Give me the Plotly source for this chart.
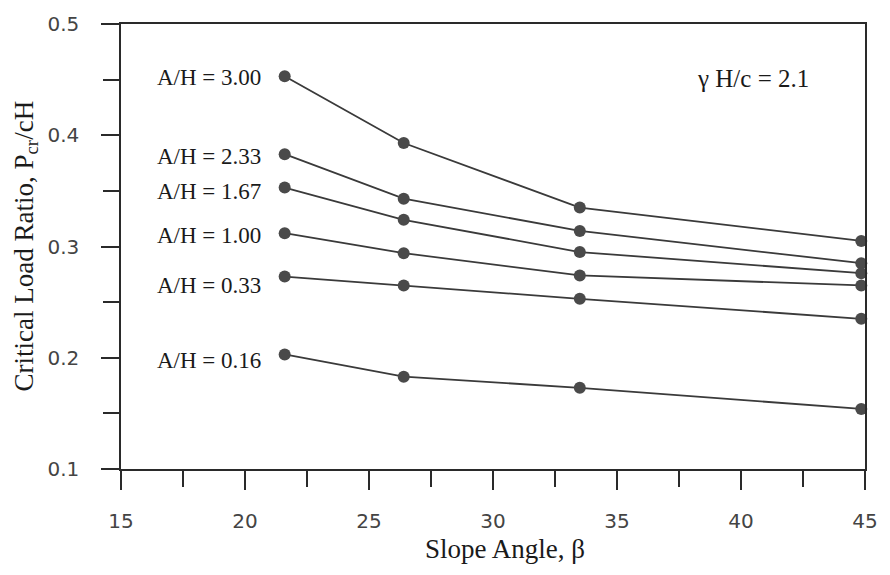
import plotly.graph_objects as go

# ---- data ----
slope_angle = [21.6, 26.4, 33.5, 44.85]
series_labels = ["A/H = 3.00", "A/H = 2.33", "A/H = 1.67", "A/H = 1.00", "A/H = 0.33", "A/H = 0.16"]
ratio_300 = [0.453, 0.393, 0.335, 0.305]
ratio_233 = [0.383, 0.343, 0.314, 0.285]
ratio_167 = [0.353, 0.324, 0.295, 0.276]
ratio_100 = [0.312, 0.294, 0.274, 0.265]
ratio_033 = [0.273, 0.265, 0.253, 0.235]
ratio_016 = [0.203, 0.183, 0.173, 0.154]
all_series = [ratio_300, ratio_233, ratio_167, ratio_100, ratio_033, ratio_016]

x_tick_vals = [15, 20, 25, 30, 35, 40, 45]
y_tick_vals = [0.1, 0.2, 0.3, 0.4, 0.5]

# ---- styling (pixel offsets for labels) ----
label_yshift = [-1, -2, -4, -2, -9, -6]

SERIF = "Liberation Serif, Times New Roman, serif"
SANS = "DejaVu Sans, sans-serif"
LINE_COL = "#3a3a3a"
MARK_COL = "#4a4a4a"
AX_COL = "#2a2a2a"

fig = go.Figure()
for name, ys in zip(series_labels, all_series):
    fig.add_trace(go.Scatter(
        x=slope_angle, y=ys, mode="lines+markers", name=name,
        line=dict(color=LINE_COL, width=1.8),
        marker=dict(color=MARK_COL, size=12),
        cliponaxis=False, showlegend=False,
    ))

annotations = []
for name, ys, ysh in zip(series_labels, all_series, label_yshift):
    annotations.append(dict(
        x=slope_angle[0], y=ys[0], xref="x", yref="y", text=name,
        showarrow=False, xanchor="right", yanchor="middle",
        xshift=-22, yshift=ysh,
        font=dict(family=SERIF, size=23, color="#1a1a1a"),
    ))

annotations.append(dict(
    x=40.5, y=0.451, xref="x", yref="y", text="γ H/c = 2.1",
    showarrow=False, xanchor="center", yanchor="middle",
    font=dict(family=SERIF, size=25, color="#1a1a1a"),
))
# axis titles
annotations.append(dict(
    x=0.5, y=-0.18, xref="paper", yref="paper", text="Slope Angle, β",
    showarrow=False, xanchor="center", yanchor="middle", xshift=12,
    font=dict(family=SERIF, size=27, color="#1a1a1a"),
))
annotations.append(dict(
    x=0, y=0.5, xref="paper", yref="paper", text="Critical Load Ratio, P<sub>cr</sub>/cH",
    showarrow=False, xanchor="center", yanchor="middle", textangle=-90,
    xshift=-96, yshift=0,
    font=dict(family=SERIF, size=27, color="#1a1a1a"),
))

fig.update_layout(
    width=890, height=575,
    margin=dict(l=121, r=19, t=17, b=106),
    paper_bgcolor="white", plot_bgcolor="white",
    annotations=annotations,
    xaxis=dict(
        range=[15, 45], tickvals=x_tick_vals, ticks="outside", ticklen=19,
        tickwidth=1.5, tickcolor=AX_COL, showline=True, linecolor=AX_COL,
        linewidth=1.5, mirror=True, showgrid=False, zeroline=False,
        tickfont=dict(family=SANS, size=20, color="#444"),
        ticklabelstandoff=14,
        minor=dict(dtick=2.5, tick0=15, ticks="outside", ticklen=16,
                   tickwidth=1.5, tickcolor=AX_COL, showgrid=False),
    ),
    yaxis=dict(
        range=[0.1, 0.5], tickvals=y_tick_vals, ticks="outside", ticklen=18,
        tickwidth=1.5, tickcolor=AX_COL, showline=True, linecolor=AX_COL,
        linewidth=1.5, mirror=True, showgrid=False, zeroline=False,
        tickformat=".1f",
        tickfont=dict(family=SANS, size=20, color="#444"),
        ticklabelstandoff=18,
        minor=dict(dtick=0.05, tick0=0.1, ticks="outside", ticklen=16,
                   tickwidth=1.5, tickcolor=AX_COL, showgrid=False),
    ),
)

fig.write_html("out.html")
